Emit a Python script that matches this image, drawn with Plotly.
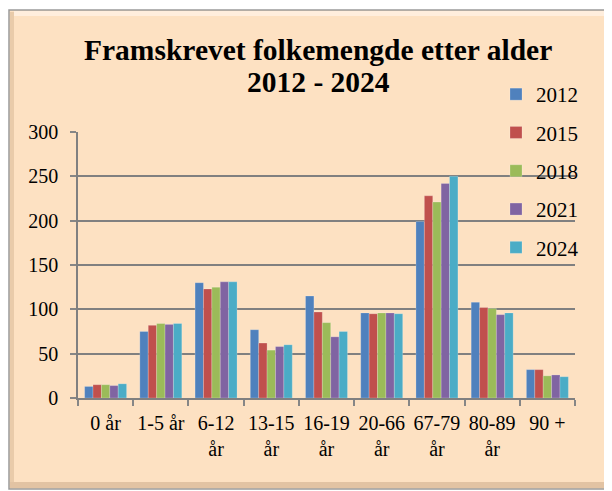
import plotly.graph_objects as go

categories = ["0 år", "1-5 år", "6-12<br>år", "13-15<br>år", "16-19<br>år",
              "20-66<br>år", "67-79<br>år", "80-89<br>år", "90 +"]
years = ["2012", "2015", "2018", "2021", "2024"]
v2012 = [13, 75, 130, 77, 115, 96, 199, 108, 32]
v2015 = [15, 82, 123, 62, 97, 95, 228, 102, 32]
v2018 = [15, 84, 125, 54, 85, 96, 221, 101, 25]
v2021 = [14, 83, 131, 58, 69, 96, 242, 94, 26]
v2024 = [16, 84, 131, 60, 75, 95, 250, 96, 24]
series = [v2012, v2015, v2018, v2021, v2024]
colors = ["#4F81BD", "#C0504D", "#9BBB59", "#8064A2", "#4BACC6"]

W, H = 612, 491
OFF = 8  # page body margin offset
# plot area in screen pixels
PX0, PX1, PY0, PY1 = 78, 575, 132, 398
L, T = PX0 - OFF, PY0 - OFF
R, B = W - (PX1 - OFF), H - (PY1 - OFF)
pw, ph = PX1 - PX0, PY1 - PY0

def px(x):
    return (x - PX0) / pw

def py(y):
    return (PY1 - y) / ph

fig = go.Figure()
for name, vals, c in zip(years, series, colors):
    fig.add_trace(go.Bar(
        x=categories, y=vals, name=name, legendgroup=name,
        marker=dict(color=c, line=dict(color="rgba(255,255,255,0.35)", width=0.6)),
    ))

font_family = "Liberation Serif, Times New Roman, serif"

# chart frame (bevelled panel)
FX0, FX1, FY0, FY1 = 9, 611, 10, 489
frame = [
    dict(type="rect", xref="paper", yref="paper", layer="below",
         x0=px(FX0), x1=px(FX1), y0=py(FY1), y1=py(FY0),
         fillcolor="#FDE1C2", line=dict(color="#9A9A9A", width=1.5)),
    # top highlight
    dict(type="rect", xref="paper", yref="paper", layer="below",
         x0=px(FX0 + 5), x1=px(FX1 - 5), y0=py(FY0 + 6), y1=py(FY0 + 1),
         fillcolor="#FFEEDD", line=dict(width=0)),
    # left shade
    dict(type="rect", xref="paper", yref="paper", layer="below",
         x0=px(FX0 + 1), x1=px(FX0 + 5), y0=py(FY1 - 2), y1=py(FY0 + 2),
         fillcolor="#E9CBAA", line=dict(width=0)),
    # right shade
    dict(type="rect", xref="paper", yref="paper", layer="below",
         x0=px(FX1 - 4), x1=px(FX1 - 1), y0=py(FY1 - 2), y1=py(FY0 + 2),
         fillcolor="#EED2B2", line=dict(width=0)),
    # bottom shade
    dict(type="rect", xref="paper", yref="paper", layer="below",
         x0=px(FX0 + 1), x1=px(FX1 - 1), y0=py(FY1 - 1), y1=py(FY1 - 7),
         fillcolor="#E2C3A3", line=dict(width=0)),
]

fig.update_layout(
    width=W, height=H,
    margin=dict(l=L, r=R, t=T, b=B, pad=0, autoexpand=False),
    paper_bgcolor="white",
    plot_bgcolor="#DDD9C3",
    barmode="group", bargap=0.24, bargroupgap=0,
    font=dict(family=font_family, size=20, color="black"),
    legend=dict(
        x=px(488 + OFF), xanchor="left", y=py(66 + OFF), yanchor="top",
        bgcolor="rgba(0,0,0,0)", font=dict(family=font_family, size=21),
        traceorder="grouped", tracegroupgap=8,
    ),
    xaxis=dict(
        type="category", tickson="boundaries", ticks="outside", ticklen=6,
        tickcolor="#868686", tickwidth=1.5, showgrid=False, tickangle=0,
        showline=True, linecolor="#808080", linewidth=1.5, ticklabelstandoff=6,
        tickfont=dict(family=font_family, size=20, color="black"),
    ),
    yaxis=dict(
        range=[0, 300], dtick=50, ticks="outside", ticklen=6,
        tickcolor="#868686", tickwidth=1.5,
        showgrid=True, gridcolor="#808080", gridwidth=1.5,
        showline=True, linecolor="#808080", linewidth=1.5,
        zeroline=False, ticklabelstandoff=8,
        tickfont=dict(family=font_family, size=20, color="black"),
    ),
    annotations=[
        dict(text="<b>Framskrevet folkemengde etter alder</b>", xref="paper", yref="paper",
             x=px(318), y=py(50), xanchor="center", yanchor="middle", showarrow=False,
             font=dict(family=font_family, size=29.5, color="black")),
        dict(text="<b>2012 - 2024</b>", xref="paper", yref="paper",
             x=px(318), y=py(82), xanchor="center", yanchor="middle", showarrow=False,
             font=dict(family=font_family, size=29.5, color="black")),
    ],
    shapes=frame,
)

fig.write_html("out.html")
